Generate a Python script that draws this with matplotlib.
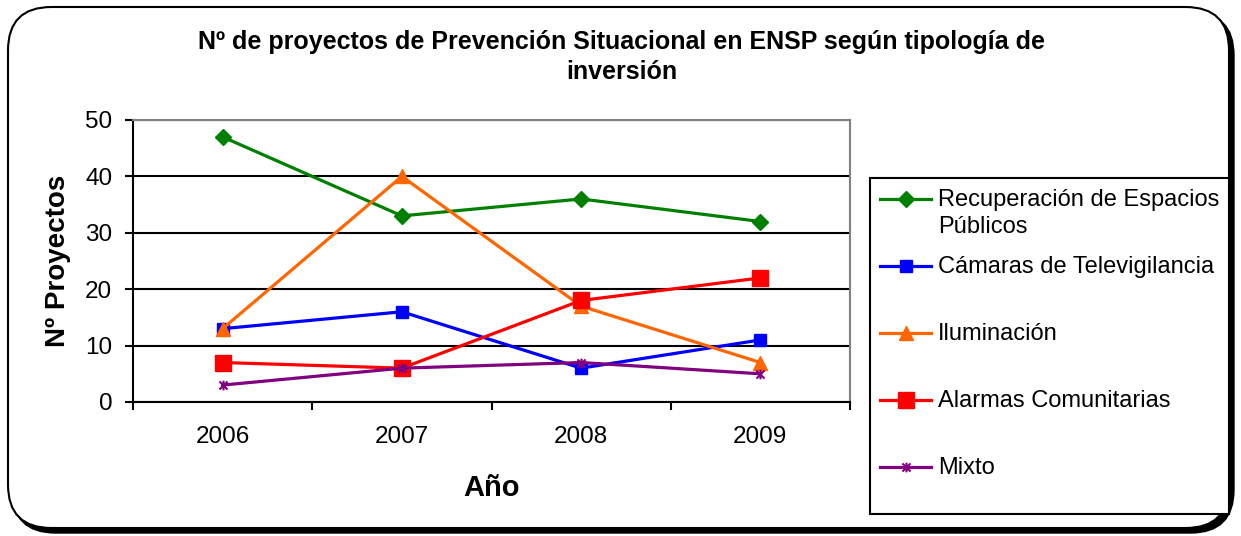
import matplotlib
matplotlib.use("Agg")
import matplotlib.pyplot as plt
from matplotlib.patches import FancyBboxPatch
from matplotlib.path import Path
from matplotlib.lines import Line2D

years = ["2006", "2007", "2008", "2009"]
recuperacion = [47, 33, 36, 32]
camaras = [13, 16, 6, 11]
iluminacion = [13, 40, 17, 7]
alarmas = [7, 6, 18, 22]
mixto = [3, 6, 7, 5]

names = ["Recuperación de Espacios\nPúblicos", "Cámaras de Televigilancia",
         "Iluminación", "Alarmas Comunitarias", "Mixto"]
series = [recuperacion, camaras, iluminacion, alarmas, mixto]

# excel style asterisk: an x with a vertical bar
star = Path([(-1, -1), (1, 1), (-1, 1), (1, -1), (0, -1.2), (0, 1.2)],
            [Path.MOVETO, Path.LINETO, Path.MOVETO, Path.LINETO, Path.MOVETO, Path.LINETO])

styles = [
    dict(color="#008000", marker="D", ms=8),
    dict(color="#0000FF", marker="s", ms=8),
    dict(color="#FF6600", marker="^", ms=9.5),
    dict(color="#FF0000", marker="s", ms=12),
    dict(color="#800080", marker=star, ms=7, mew=1.5),
]

plt.rcParams["font.family"] = ["Liberation Sans", "DejaVu Sans"]

W, H = 1241, 536
fig = plt.figure(figsize=(W / 100, H / 100), dpi=100)

# outer rounded frame with shadow
fig.patches.append(FancyBboxPatch((12 / W, 3 / H), 1222 / W, 521 / H,
                                  boxstyle="round,pad=0,rounding_size=0.035",
                                  transform=fig.transFigure, fc="black", ec="black",
                                  mutation_aspect=W / H, zorder=-10))
fig.patches.append(FancyBboxPatch((8 / W, 8 / H), 1221 / W, 521 / H,
                                  boxstyle="round,pad=0,rounding_size=0.035",
                                  transform=fig.transFigure, fc="white", ec="black", lw=1.5,
                                  mutation_aspect=W / H, zorder=-9))

ax = fig.add_axes([133 / W, (H - 402) / H, 717 / W, 282 / H])
x = range(len(years))
for vals, st in zip(series, styles):
    ax.plot(x, vals, lw=2.3, clip_on=False, zorder=3, **st)

ax.set_xlim(-0.5, 3.5)
ax.set_ylim(0, 50)
ax.set_yticks(range(0, 51, 10))
ax.set_xticks(list(x))
ax.set_xticklabels(years)
ax.set_xticks([-0.5, 0.5, 1.5, 2.5, 3.5], minor=True)
ax.tick_params(axis="x", which="major", length=0, pad=17, labelsize=17.5)
ax.tick_params(axis="x", which="minor", length=6, width=1.5, direction="out")
ax.tick_params(axis="y", length=6, width=1.5, direction="out", pad=9, labelsize=17.5)
ax.grid(axis="y", color="black", lw=1.5)
for s in ["top", "right"]:
    ax.spines[s].set_color("#808080")
    ax.spines[s].set_linewidth(1.5)
for s in ["left", "bottom"]:
    ax.spines[s].set_linewidth(1.5)

ax.set_ylabel("Nº Proyectos", fontsize=20, fontweight="bold", labelpad=10)
ax.set_xlabel("Año", fontsize=21, fontweight="bold", labelpad=19)

fig.text(622 / W, 1 - 57 / H,
         "Nº de proyectos de Prevención Situacional en ENSP según tipología de\ninversión",
         ha="center", va="center", fontsize=18, fontweight="bold", linespacing=1.35)

# legend box, laid out like the spreadsheet legend
lg = fig.add_axes([870 / W, (H - 514) / H, 359 / W, 336 / H])
lg.set_xlim(0, 359)
lg.set_ylim(336, 0)
lg.set_xticks([])
lg.set_yticks([])
for s in lg.spines.values():
    s.set_linewidth(1.5)
rows = [21, 88, 155, 222, 289]
for yy, name, st in zip(rows, names, styles):
    lg.add_line(Line2D([10, 61], [yy, yy], lw=2.3, **st, markevery=[]))
    lg.plot([35.5], [yy], ls="none", **st)
    lg.text(68, yy - 10, name, va="top", ha="left", fontsize=17, linespacing=1.32)

fig.savefig("out.png", dpi=100)
